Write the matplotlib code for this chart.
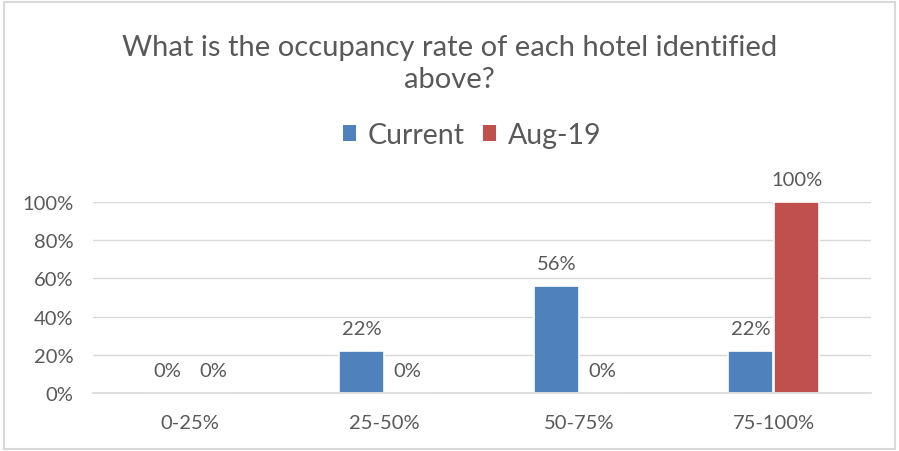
import matplotlib
matplotlib.use("Agg")
import matplotlib.pyplot as plt
import numpy as np
from matplotlib.patches import Rectangle

categories = ["0-25%", "25-50%", "50-75%", "75-100%"]
current = [0.0, 0.22, 0.56, 0.22]
aug19 = [0.0, 0.0, 0.0, 1.00]
series_names = ["Current", "Aug-19"]
yticks = [0, 0.2, 0.4, 0.6, 0.8, 1.0]

plt.rcParams['font.family'] = ['Lato', 'DejaVu Sans']
txt = '#595959'
blue = '#4F81BD'
red = '#C0504D'

fig = plt.figure(figsize=(8.99, 4.52), dpi=100)
fig.patches.append(Rectangle((0.004, 0.004), 0.992, 0.99, transform=fig.transFigure,
                             fill=False, edgecolor='#D9D9D9', linewidth=1.5))
ax = fig.add_axes([93/899, 1-394/452, 778/899, 191/452])
x = np.arange(len(categories))
w = 0.23
off = 0.118
b1 = ax.bar(x - off, current, w, color=blue, edgecolor='white', linewidth=1.2,
            label=series_names[0])
b2 = ax.bar(x + off, aug19, w, color=red, edgecolor='white', linewidth=1.2,
            label=series_names[1])
for bars, vals in ((b1, current), (b2, aug19)):
    for r, v in zip(bars, vals):
        ax.text(r.get_x() + r.get_width()/2, v + 0.075, f"{v:.0%}", ha='center', va='bottom',
                fontsize=14.5, color=txt, clip_on=False)
ax.set_xlim(-0.5, 3.5)
ax.set_ylim(0, 1.0)
ax.set_yticks(yticks)
ax.set_yticklabels([f"{t:.0%}" for t in yticks])
ax.set_xticks(x)
ax.set_xticklabels(categories)
ax.tick_params(axis='both', length=0, labelsize=14.5, colors=txt)
ax.tick_params(axis='x', pad=15)
ax.tick_params(axis='y', pad=14)
ax.grid(axis='y', color='#D9D9D9', linewidth=1)
ax.set_axisbelow(True)
for s in ['top', 'right', 'left']:
    ax.spines[s].set_visible(False)
ax.spines['bottom'].set_color('#D9D9D9')
ax.spines['bottom'].set_linewidth(1.2)
ax.spines['bottom'].set_zorder(3)

fig.text(0.5, 1-64/452, "What is the occupancy rate of each hotel identified\nabove?",
         ha='center', va='center', fontsize=21, color=txt, linespacing=1.25)
leg = fig.legend(handles=[b1, b2], loc='center', bbox_to_anchor=(472/899, 1-136/452), ncol=2,
                 frameon=False, fontsize=20.5, labelcolor=txt, handlelength=0.46,
                 handleheight=0.46, handletextpad=0.4, columnspacing=0.65)
for h in leg.legend_handles:
    h.set_edgecolor('none')
fig.savefig("out.png", dpi=100)
